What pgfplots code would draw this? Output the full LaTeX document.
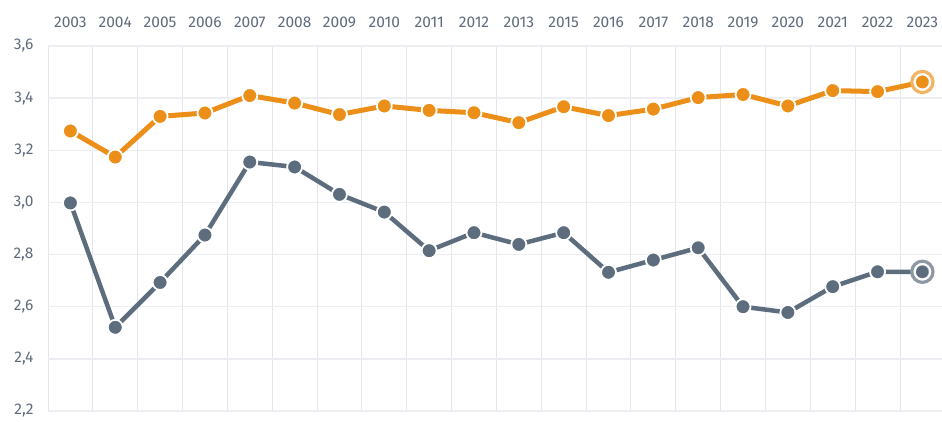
\documentclass[border=0pt]{standalone}
\usepackage{fontspec}
\setmainfont{Fira Sans}
\usepackage{pgfplots}
\pgfplotsset{compat=1.18}
\definecolor{cOr}{HTML}{EC8F18}
\definecolor{cGr}{HTML}{5E6D7E}
\definecolor{cTx}{HTML}{5F6B7B}
\definecolor{cGridH}{HTML}{ECEEF1}
\definecolor{cGridV}{HTML}{E3E6EA}
\definecolor{cOrL}{HTML}{F2B462}
\definecolor{cGrL}{HTML}{8F99A5}
\begin{document}
\begin{tikzpicture}[x=1bp,y=1bp]
\useasboundingbox (0,0) rectangle (942,421);
\clip (0,0) rectangle (942,421);
\begin{axis}[
  at={(48bp,10bp)}, anchor=south west,
  scale only axis, width=896.8bp, height=365bp,
  xmin=-0.5, xmax=19.5, ymin=2.2, ymax=3.6,
  xtick={0,...,19},
  xticklabels={2003,2004,2005,2006,2007,2008,2009,2010,2011,2012,2013,2015,2016,2017,2018,2019,2020,2021,2022,2023},
  minor xtick={-0.5,0.5,1.5,2.5,3.5,4.5,5.5,6.5,7.5,8.5,9.5,10.5,11.5,12.5,13.5,14.5,15.5,16.5,17.5,18.5},
  ytick={2.2,2.4,...,3.61},
  xticklabel pos=upper,
  major tick length=0pt, minor tick length=0pt,
  ymajorgrids, xminorgrids,
  major grid style={draw=cGridH, line width=1.5bp},
  minor grid style={draw=cGridV, line width=0.9bp},
  axis line style={draw=none},
  ticklabel style={font=\fontsize{15.5bp}{18bp}\selectfont, text=cTx},
  yticklabel style={xshift=-11bp},
  xticklabel style={yshift=15bp},
  /pgf/number format/.cd, use comma, fixed, fixed zerofill, precision=1, assume math mode=true,
]
\addplot[cGr, line width=4.5bp, line join=round, mark=*, mark size=7.5bp,
  mark options={fill=cGr, draw=white, line width=1.8bp}] coordinates {
(0,2.998)(1,2.521)(2,2.693)(3,2.875)(4,3.155)(5,3.136)(6,3.031)(7,2.963)(8,2.815)(9,2.884)(10,2.839)(11,2.884)(12,2.732)(13,2.779)(14,2.826)(15,2.600)(16,2.578)(17,2.677)(18,2.734)(19,2.734)};
\addplot[cOr, line width=5bp, line join=round, mark=*, mark size=7.5bp,
  mark options={fill=cOr, draw=white, line width=1.8bp}] coordinates {
(0,3.274)(1,3.174)(2,3.330)(3,3.343)(4,3.410)(5,3.381)(6,3.337)(7,3.370)(8,3.353)(9,3.344)(10,3.306)(11,3.367)(12,3.333)(13,3.358)(14,3.402)(15,3.414)(16,3.370)(17,3.429)(18,3.425)(19,3.462)};
\addplot[cGrL, only marks, mark=*, mark size=10.6bp, mark options={fill=white, draw=cGrL, line width=3.2bp}] coordinates {(19,2.734)};
\addplot[cGr, only marks, mark=*, mark size=6.3bp, mark options={fill=cGr, draw=cGr, line width=0.1bp}] coordinates {(19,2.734)};
\addplot[cOrL, only marks, mark=*, mark size=10.6bp, mark options={fill=white, draw=cOrL, line width=3.2bp}] coordinates {(19,3.462)};
\addplot[cOr, only marks, mark=*, mark size=6.3bp, mark options={fill=cOr, draw=cOr, line width=0.1bp}] coordinates {(19,3.462)};
\end{axis}
\end{tikzpicture}
\end{document}
